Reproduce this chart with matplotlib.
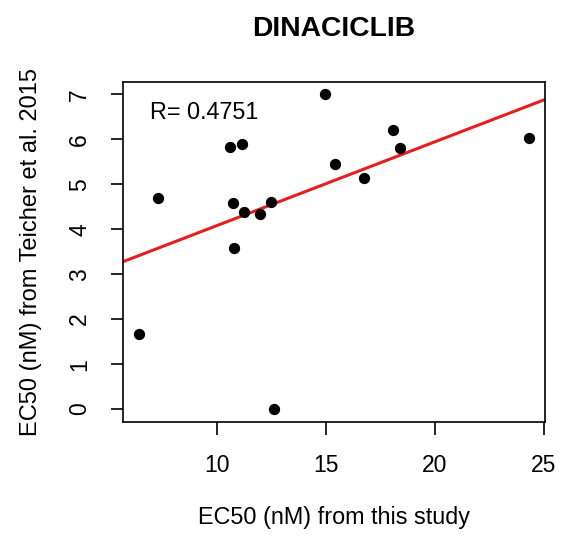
import matplotlib.pyplot as plt
import numpy as np

plt.rcParams['font.family'] = ['Liberation Sans', 'DejaVu Sans']

# EC50 values
this_study = [14.97, 18.10, 24.35, 10.60, 11.15, 18.40, 15.45, 16.75,
              7.30, 10.75, 11.25, 12.00, 12.50, 10.80, 6.42, 12.65]
teicher = [7.00, 6.20, 6.02, 5.82, 5.90, 5.80, 5.45, 5.15,
           4.70, 4.59, 4.38, 4.34, 4.60, 3.59, 1.68, 0.00]
x_ticks = [10, 15, 20, 25]
y_ticks = [0, 1, 2, 3, 4, 5, 6, 7]

x = np.array(this_study)
y = np.array(teicher)
slope, intercept = np.polyfit(x, y, 1)

fig = plt.figure(figsize=(5.63, 5.38), dpi=100)
ax = fig.add_axes([0.2185, 0.2162, 0.7495, 0.6318])

ax.scatter(x, y, s=66, color='black', zorder=3, linewidths=0)

# R-style 4% padding
xr = x.max() - x.min()
yr = y.max() - y.min()
ax.set_xlim(x.min() - 0.04 * xr, x.max() + 0.04 * xr)
ax.set_ylim(y.min() - 0.04 * yr, y.max() + 0.04 * yr)

xl = np.array(ax.get_xlim())
ax.plot(xl, intercept + slope * xl, color='#E3201F', lw=2.2, zorder=2)
ax.set_xlim(xl)

ax.set_xticks(x_ticks)
ax.set_yticks(y_ticks)
ax.tick_params(direction='out', length=9, width=1.2, labelsize=16.5, pad=14)
ax.tick_params(axis='y', labelrotation=90)
for lbl in ax.get_yticklabels():
    lbl.set_va('center')
for s in ax.spines.values():
    s.set_linewidth(1.2)

ax.text(0.063, 0.909, 'R= 0.4751', transform=ax.transAxes, fontsize=16.8,
        va='center', ha='left')

ax.set_xlabel('EC50 (nM) from this study', fontsize=16.8, labelpad=21)
ax.set_ylabel('EC50 (nM) from Teicher et al. 2015', fontsize=17, labelpad=19)
fig.text(0.593, 0.947, 'DINACICLIB', fontsize=20.3, fontweight='bold',
         ha='center', va='center')

fig.savefig('out.png', dpi=100)
